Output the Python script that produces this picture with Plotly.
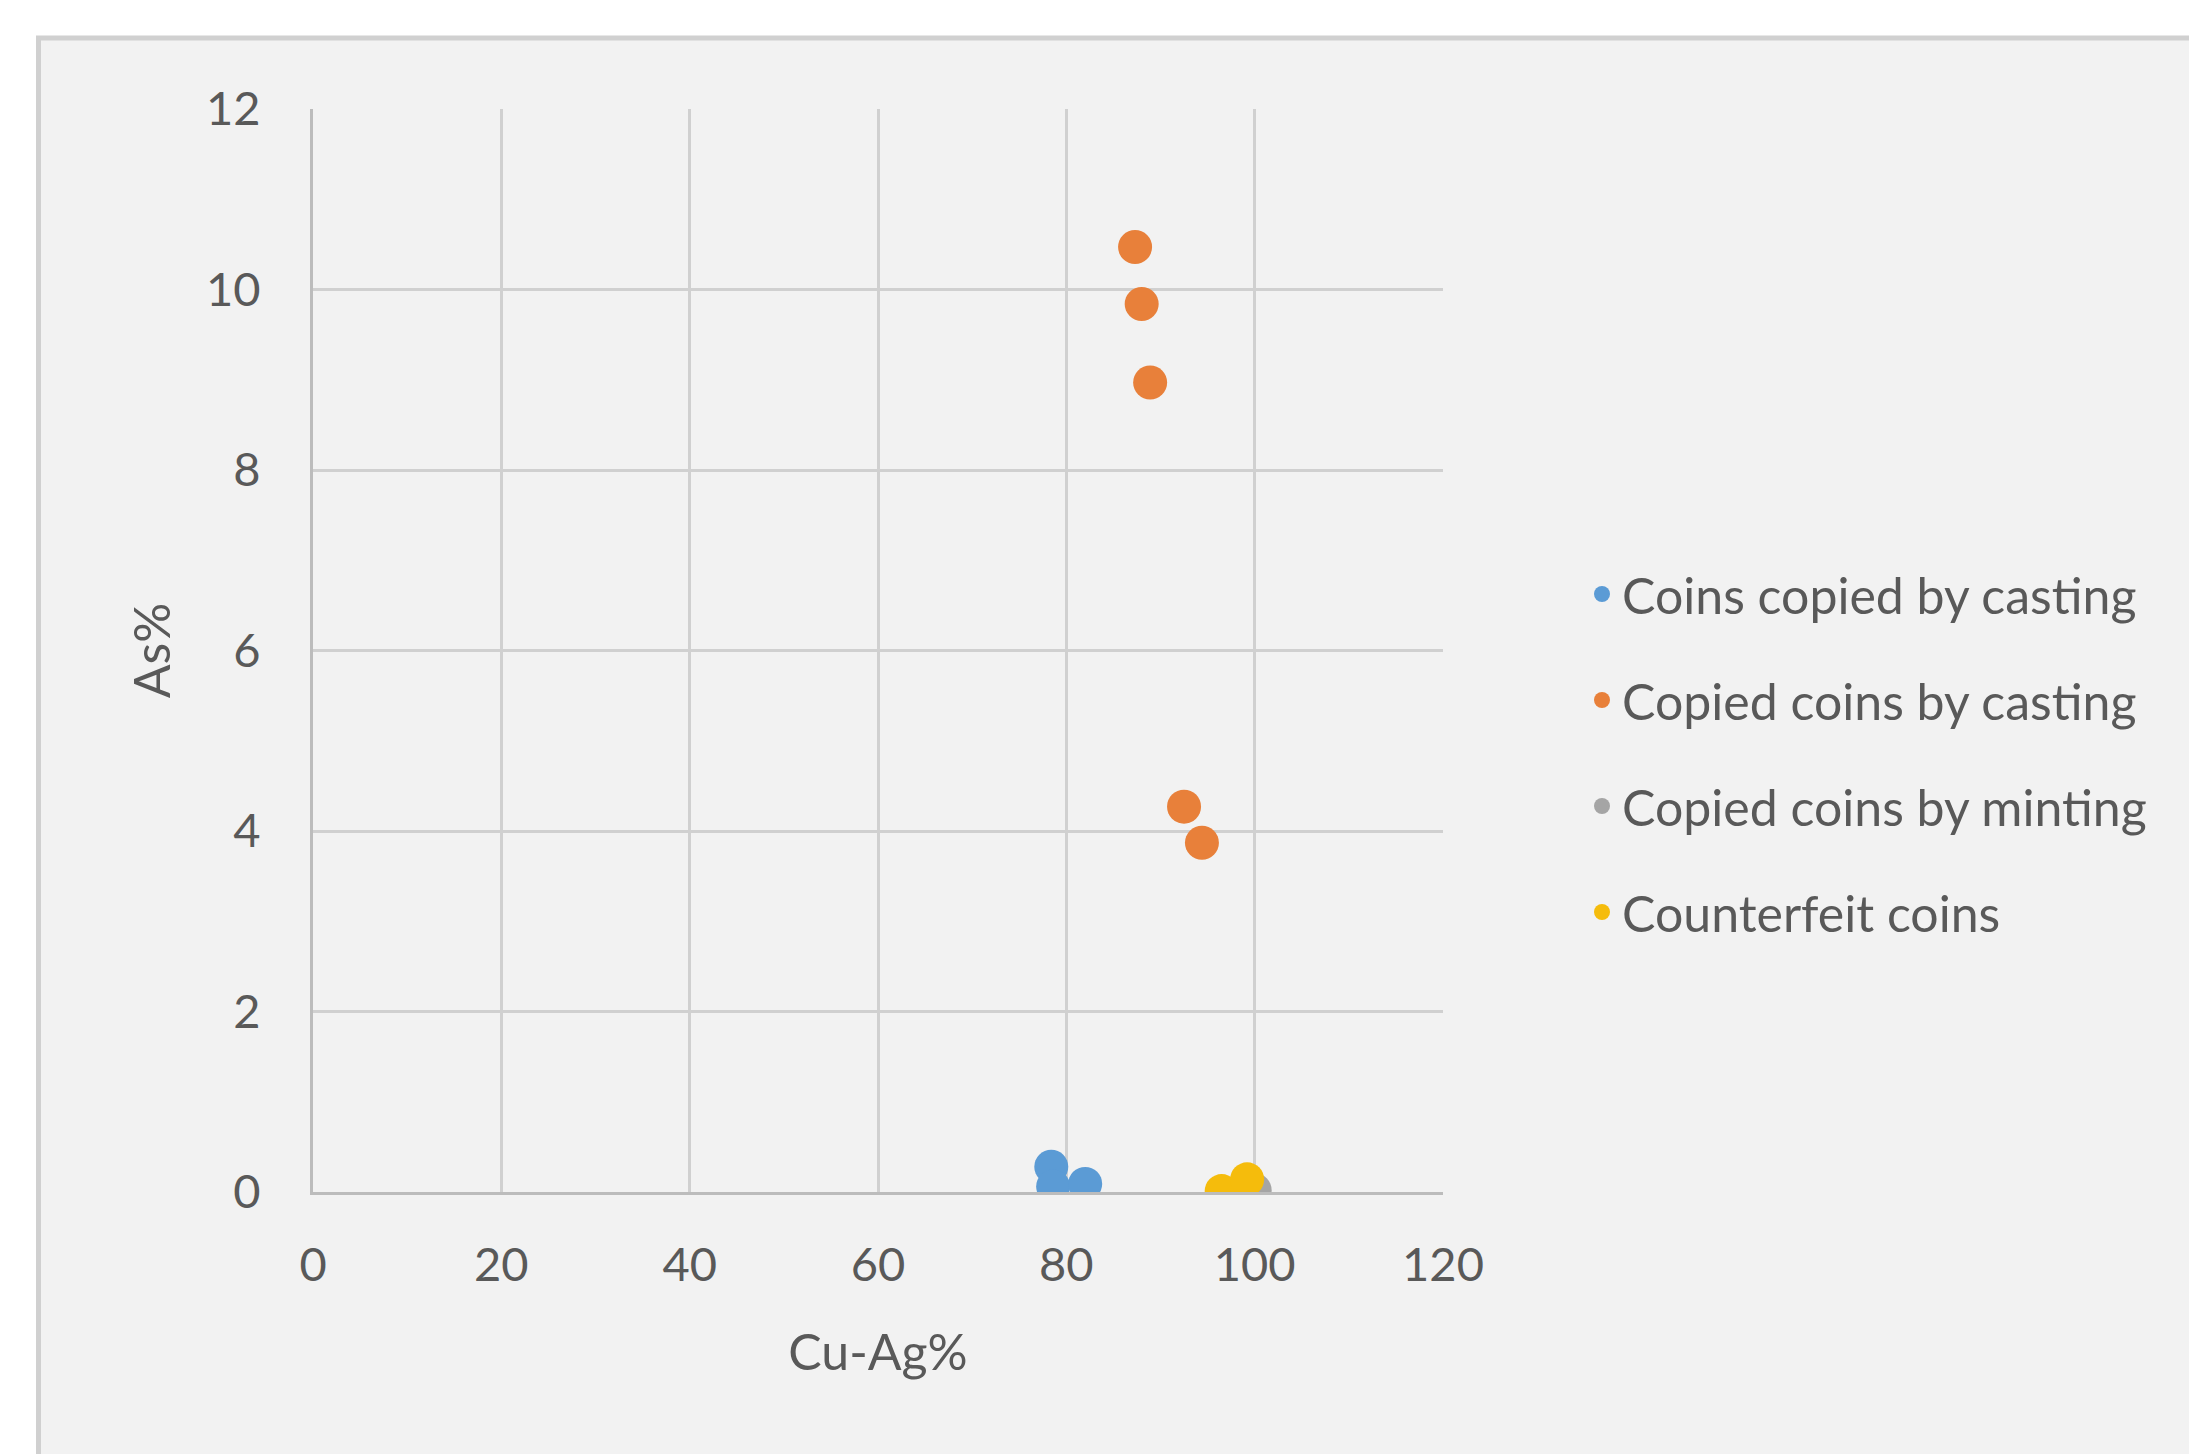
import plotly.graph_objects as go

# ---- data ----
series_names = ["Coins copied by casting", "Copied coins by casting",
                "Copied coins by minting", "Counterfeit coins"]
cast_x = [78.4, 78.6, 82.0]
cast_y = [0.28, 0.06, 0.09]
copied_cast_x = [87.3, 88.0, 88.9, 92.5, 94.4]
copied_cast_y = [10.47, 9.84, 8.97, 4.27, 3.87]
mint_x = [100.0]
mint_y = [0.02]
counterfeit_x = [96.5, 99.2]
counterfeit_y = [0.01, 0.14]
x_ticks = [0, 20, 40, 60, 80, 100, 120]
y_ticks = [0, 2, 4, 6, 8, 10, 12]

colors = ["#5b9bd5", "#e8803a", "#a5a5a5", "#f5bc0c"]
xs = [cast_x, copied_cast_x, mint_x, counterfeit_x]
ys = [cast_y, copied_cast_y, mint_y, counterfeit_y]

W, H = 2189, 1454
L, R, T, B = 313, 1443, 109, 1192
FONT = "Lato"
TXT = "#595959"

fig = go.Figure()
for i, name in enumerate(series_names):
    fig.add_trace(go.Scatter(
        x=xs[i], y=ys[i], mode="markers", name=name,
        legendgroup=f"g{i}",
        marker=dict(size=34, color=colors[i], line=dict(width=0)),
    ))

def px_x(p):
    return (p - L) / (R - L)

def px_y(p):
    return (B - p) / (B - T)

# outer chart box (grey border, light fill)
fig.add_shape(type="rect", xref="paper", yref="paper", layer="below",
              x0=px_x(38.5), x1=px_x(W + 30), y0=px_y(H + 30), y1=px_y(38),
              fillcolor="#f2f2f2", line=dict(color="#d0d0d0", width=5))

fig.update_layout(
    width=W, height=H,
    margin=dict(l=L, r=W - R, t=T, b=H - B),
    paper_bgcolor="white", plot_bgcolor="#f2f2f2",
    font=dict(family=FONT, size=47, color=TXT),
    showlegend=True,
    legend=dict(x=px_x(1582), xanchor="left", y=px_y(753), yanchor="middle",
                bgcolor="rgba(0,0,0,0)", font=dict(family=FONT, size=50, color=TXT),
                tracegroupgap=38),
    xaxis=dict(range=[0, 120], tickvals=x_ticks, showgrid=True, gridcolor="#d0d0d0",
               gridwidth=3, showline=True, linecolor="#bcbcbc", linewidth=3,
               zeroline=False, ticks="", ticklabelstandoff=30,
               tickfont=dict(size=47),
               title=dict(text="Cu-Ag%", standoff=45, font=dict(size=50, color=TXT))),
    yaxis=dict(range=[0, 12], tickvals=y_ticks, showgrid=True, gridcolor="#d0d0d0",
               gridwidth=3, showline=True, linecolor="#bcbcbc", linewidth=3,
               zeroline=False, ticks="", ticklabelstandoff=40,
               tickfont=dict(size=47),
               title=dict(text="As%", standoff=20, font=dict(size=50, color=TXT))),
)
fig.write_html("out.html", config={"displayModeBar": False},
               post_script="document.body.style.margin='0px';")
